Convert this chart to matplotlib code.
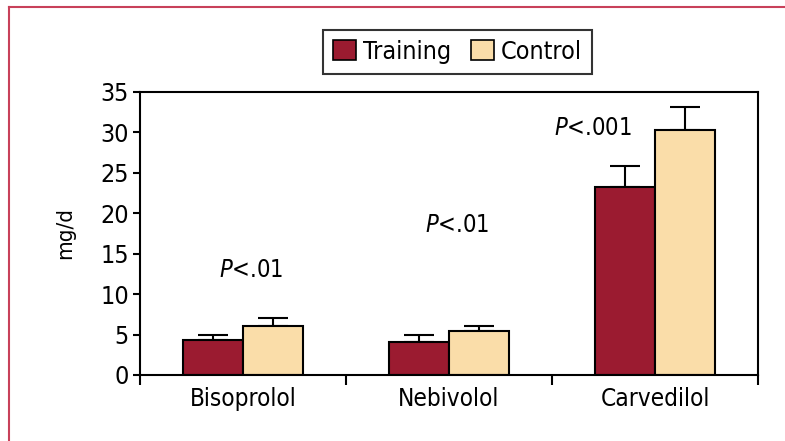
import numpy as np
import matplotlib
matplotlib.use("Agg")
import matplotlib.pyplot as plt
from matplotlib.lines import Line2D
from matplotlib.patches import Patch

# data
drugs = ["Bisoprolol", "Nebivolol", "Carvedilol"]
training = [4.3, 4.1, 23.3]
training_err = [0.6, 0.8, 2.6]
control = [6.1, 5.4, 30.3]
control_err = [0.9, 0.6, 2.8]
pvals = ["<.01", "<.01", "<.001"]
p_ypos = [13.0, 18.5, 30.5]
p_xoff = [0.04, 0.04, -0.3]

plt.rcParams['font.family'] = ['DejaVu Sans']
plt.rcParams['font.stretch'] = 'condensed'
plt.rcParams['mathtext.fontset'] = 'custom'
plt.rcParams['mathtext.it'] = 'DejaVu Sans:italic:stretch=condensed'
plt.rcParams['mathtext.rm'] = 'DejaVu Sans:stretch=condensed'

fig = plt.figure(figsize=(7.85, 4.41), dpi=100)
ax = fig.add_axes([0.1783, 0.1497, 0.7873, 0.6417])

x = np.arange(len(drugs)) + 0.5
w = 0.29
red = '#9b1b30'
peach = '#fadda9'

ax.bar(x - w/2, training, w, color=red, edgecolor='black', linewidth=1.5, zorder=2)
ax.bar(x + w/2, control, w, color=peach, edgecolor='black', linewidth=1.5, zorder=2)
ax.errorbar(x - w/2, training, yerr=[np.zeros(3), training_err], fmt='none',
            ecolor='black', elinewidth=1.5, capsize=11, capthick=1.5, zorder=1)
ax.errorbar(x + w/2, control, yerr=[np.zeros(3), control_err], fmt='none',
            ecolor='black', elinewidth=1.5, capsize=11, capthick=1.5, zorder=1)

for xi, off, yp, p in zip(x, p_xoff, p_ypos, pvals):
    ax.text(xi + off, yp, r'$P$' + p, fontsize=17, ha='center', va='center')

ax.set_xlim(0, 3)
ax.set_ylim(0, 35)
ax.set_yticks(range(0, 36, 5))
ax.set_xticks([0, 1, 2, 3])
ax.set_xticklabels([])
ax.set_xticks(x, minor=True)
ax.set_xticklabels(drugs, minor=True, fontsize=17.5)
ax.tick_params(axis='x', which='minor', length=0, pad=9)
ax.tick_params(axis='x', which='major', length=7, width=1.5, direction='out')
ax.tick_params(axis='y', length=5, width=1.5, direction='out', labelsize=18, pad=3)
for s in ax.spines.values():
    s.set_linewidth(1.5)
ax.set_ylabel('mg/d', fontsize=16, labelpad=18)

handles = [Patch(facecolor=red, edgecolor='black', linewidth=1.2),
           Patch(facecolor=peach, edgecolor='black', linewidth=1.2)]
leg = fig.legend(handles, ['Training', 'Control'], loc='center',
                 bbox_to_anchor=(0.583, 0.883), ncol=2, fontsize=18,
                 frameon=True, fancybox=False, edgecolor='black',
                 handlelength=0.9, handleheight=0.9, handletextpad=0.3,
                 columnspacing=0.8, borderpad=0.4)
leg.get_frame().set_linewidth(1.5)

# outer frame
fig.add_artist(Line2D([9/785, 9/785], [0, 1 - 7/441], color='#c8415a', lw=1.5))
fig.add_artist(Line2D([9/785, 1], [1 - 7/441, 1 - 7/441], color='#c8415a', lw=1.5))

plt.savefig('out.png', dpi=100)
